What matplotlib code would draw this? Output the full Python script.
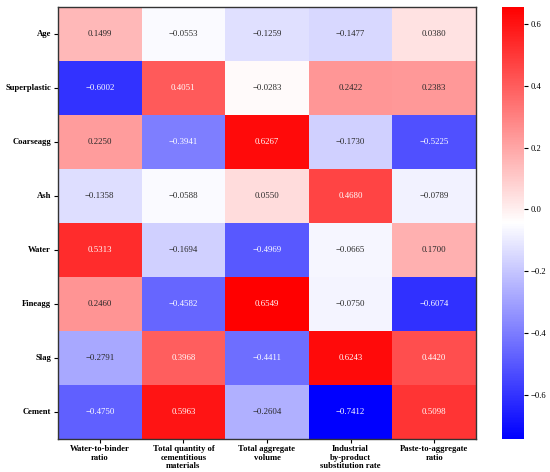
import numpy as np
import matplotlib
matplotlib.use("Agg")
import matplotlib.pyplot as plt
import seaborn as sns

plt.rcParams['font.family'] = ['Liberation Serif', 'DejaVu Serif']

rows = ["Age", "Superplastic", "Coarseagg", "Ash", "Water", "Fineagg", "Slag", "Cement"]
cols = ["Water-to-binder\nratio",
        "Total quantity of\ncementitious\nmaterials",
        "Total aggregate\nvolume",
        "Industrial\nby-product\nsubstitution rate",
        "Paste-to-aggregate\nratio"]

age = [0.1499, -0.0553, -0.1259, -0.1477, 0.0380]
superplastic = [-0.6002, 0.4051, -0.0283, 0.2422, 0.2383]
coarseagg = [0.2250, -0.3941, 0.6267, -0.1730, -0.5225]
ash = [-0.1358, -0.0588, 0.0550, 0.4680, -0.0789]
water = [0.5313, -0.1694, -0.4969, -0.0665, 0.1700]
fineagg = [0.2460, -0.4582, 0.6549, -0.0750, -0.6074]
slag = [-0.2791, 0.3968, -0.4411, 0.6243, 0.4420]
cement = [-0.4750, 0.5963, -0.2604, -0.7412, 0.5098]

data = np.array([age, superplastic, coarseagg, ash, water, fineagg, slag, cement])
labels = np.array([[f"{v:.4f}".replace("-", "\u2212") for v in r] for r in data])

fig = plt.figure(figsize=(5.5, 4.72), dpi=100)
ax = fig.add_axes([58/550, 1 - 438.5/472, 418/550, 431.5/472])
cax = fig.add_axes([502/550, 1 - 438.5/472, 21.5/550, 431.5/472])

sns.heatmap(data, ax=ax, cbar_ax=cax, cmap="bwr", annot=labels, fmt="",
            annot_kws={"size": 6.3}, xticklabels=cols, yticklabels=rows)

for s in ax.spines.values():
    s.set_visible(True)
    s.set_linewidth(1.0)
    s.set_color("#333333")

ax.tick_params(axis='both', length=3, width=0.8, labelsize=6.2, pad=2)
for t in ax.get_yticklabels():
    t.set_fontweight('bold')
    t.set_rotation(0)
for t in ax.get_xticklabels():
    t.set_fontweight('bold')
    t.set_rotation(0)
    t.set_linespacing(1.05)
    t.set_ha('center')

cax.tick_params(labelsize=6.2, length=3, width=0.8, pad=2)
cax.set_yticks([-0.6, -0.4, -0.2, 0.0, 0.2, 0.4, 0.6])

fig.savefig("out.png", dpi=100)
